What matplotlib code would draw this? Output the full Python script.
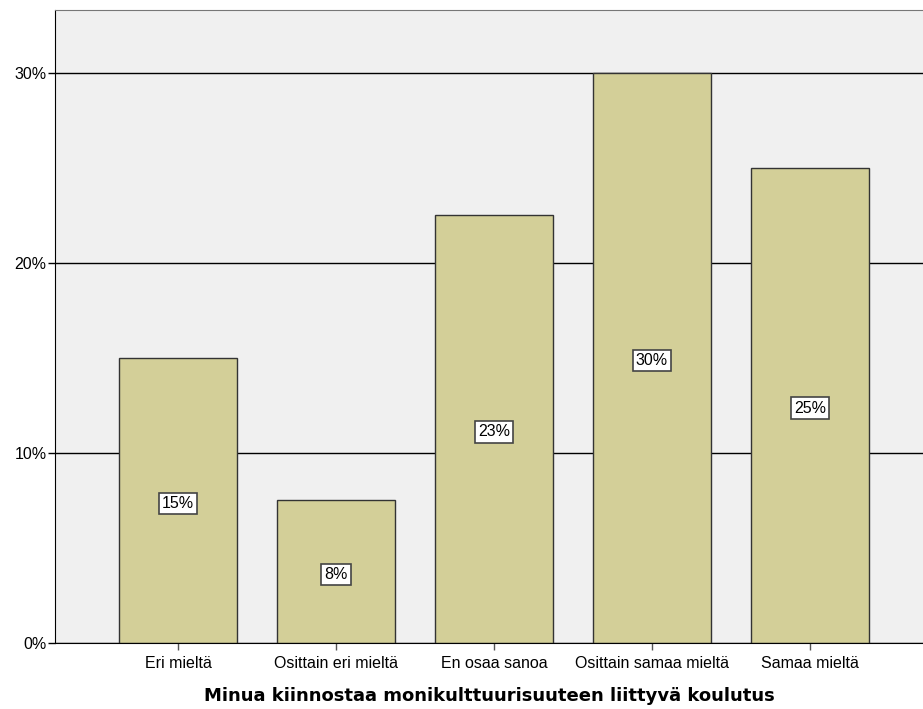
import matplotlib
matplotlib.use("Agg")
import matplotlib.pyplot as plt
from matplotlib.ticker import FuncFormatter

plt.rcParams['font.family'] = ['Liberation Sans', 'DejaVu Sans']

categories = ["Eri mieltä", "Osittain eri mieltä", "En osaa sanoa",
              "Osittain samaa mieltä", "Samaa mieltä"]
percent = [15.0, 7.5, 22.5, 30.0, 25.0]
y_ticks = [0, 10, 20, 30]
x_title = "Minua kiinnostaa monikulttuurisuuteen liittyvä koulutus"

fig = plt.figure(figsize=(9.23, 7.09), dpi=100)
ax = fig.add_axes([55 / 923, 66 / 709, 868 / 923, 633 / 709])
ax.set_facecolor("#F0F0F0")

ax.set_axisbelow(True)
ax.yaxis.grid(True, color="black", linewidth=1.0)

pos = list(range(len(categories)))
bars = ax.bar(pos, percent, width=0.747, color="#D3CF98",
              edgecolor="#333333", linewidth=1.0, zorder=2)

# value labels in white boxes at the middle of each bar
for rect, v in zip(bars, percent):
    ax.annotate(f"{int(v + 0.5)}%",
                xy=(rect.get_x() + rect.get_width() / 2, v / 2),
                xytext=(0, -2), textcoords="offset points",
                ha="center", va="center", fontsize=11.5, zorder=3,
                bbox=dict(boxstyle="square,pad=0.2", facecolor="white",
                          edgecolor="#444444", linewidth=1.2))

ax.set_xlim(-0.778, 4.715)
ax.set_ylim(0, 33.3)
ax.set_yticks(y_ticks)
ax.yaxis.set_major_formatter(FuncFormatter(lambda v, _: f"{v:.0f}%"))
ax.set_xticks(pos)
ax.set_xticklabels(categories)
ax.tick_params(axis="both", labelsize=11.5, color="black", length=5, width=1)
ax.tick_params(axis="x", pad=4, color="#555555")
ax.tick_params(axis="y", pad=1)

ax.spines["right"].set_visible(False)
ax.spines["top"].set_color("#777777")
ax.spines["left"].set_color("black")
ax.spines["bottom"].set_color("black")

ax.set_xlabel(x_title, fontsize=13, fontweight="bold",
              family=["DejaVu Sans"], labelpad=12)

fig.savefig("out.png", dpi=100)
